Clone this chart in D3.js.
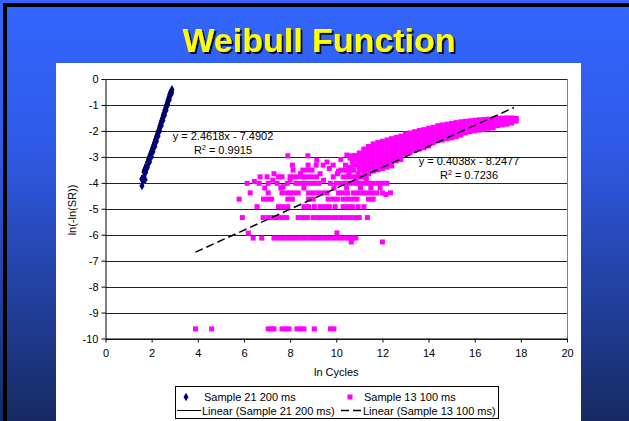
<!DOCTYPE html>
<html><head><meta charset="utf-8">
<script src="https://cdn.jsdelivr.net/npm/d3@7"></script>
<style>html,body{margin:0;padding:0;background:#fff;}svg{display:block;font-family:"Liberation Sans",Arial,sans-serif;}</style>
</head><body>
<svg id="c" width="629" height="421"></svg>
<script>
const titleText = "Weibull Function";
const xTicks = [0,2,4,6,8,10,12,14,16,18,20];
const yTicks = [0,-1,-2,-3,-4,-5,-6,-7,-8,-9,-10];
const xLabel = "ln Cycles";
const yLabel = "ln(-ln(SR))";
const seriesNames = ["Sample 21 200 ms","Sample 13 100 ms","Linear (Sample 21 200 ms)","Linear (Sample 13 100 ms)"];

// Sample 21 200 ms : [x, y]
const sample21 = [
 [1.58,-4.12],[1.57,-3.85],[1.63,-3.95],[1.72,-3.88],[1.67,-3.75],[1.64,-3.82],
 [1.68,-3.6],[1.74,-3.6],[1.70,-3.5],[1.76,-3.5],[1.76,-3.4],[1.82,-3.4],
 [1.85,-3.2],[1.91,-3.2],[1.88,-3.1],[1.93,-3.0],[1.99,-3.0],[1.97,-2.9],
 [2.00,-2.8],[2.06,-2.8],[2.04,-2.7],[2.08,-2.6],[2.14,-2.6],[2.12,-2.5],
 [2.15,-2.4],[2.21,-2.4],[2.19,-2.3],[2.22,-2.2],[2.28,-2.2],[2.26,-2.1],
 [2.29,-2.0],[2.35,-2.0],[2.33,-1.9],[2.36,-1.8],[2.42,-1.8],[2.40,-1.7],
 [2.43,-1.6],[2.49,-1.6],[2.47,-1.5],[2.50,-1.4],[2.56,-1.4],[2.54,-1.3],
 [2.57,-1.2],[2.63,-1.2],[2.61,-1.1],[2.64,-1.0],[2.70,-1.0],[2.68,-0.9],
 [2.71,-0.8],[2.77,-0.8],[2.75,-0.7],[2.78,-0.6],[2.84,-0.6],[2.82,-0.5],
 [2.86,-0.45],[2.88,-0.4],[2.87,-0.52]
];

// Sample 13 100 ms, scattered rows: [y, [x values]]
const sample13Rows = [
 [-9.63,[3.9,4.6,7.05,7.2,7.3,7.65,7.8,7.95,8.3,8.45,8.6,9.05,9.75,9.9]],
 [-6.13,[6.4,6.77,7.3,7.5,7.7,7.9,8.1,8.3,8.5,8.7,8.9,9.1,9.3,9.5,9.7,9.9,10.1,10.3,10.5,10.7,10.85]],
 [-5.34,[5.93,6.83,7.05,7.25,7.45,7.65,7.85,8.35,8.55,8.75,9.0,9.2,9.4,9.6,9.8,10.0,10.2,10.4,10.6,10.8,11.0,11.35]],
 [-4.92,[6.57,7.5,7.7,7.9,8.6,8.8,9.05,9.3,9.5,9.7,9.95,10.3,10.5,10.7,10.95,11.2]],
 [-4.63,[5.79,6.85,7.05,7.2,7.9,8.1,8.8,9.0,9.65,9.85,10.05,10.3,10.5,10.7,10.9,11.4,11.6]],
 [-4.39,[6.27,7.05,7.65,7.85,8.0,8.15,8.35,8.8,9.0,9.2,9.4,9.6,10.1,10.3,10.5,10.75,10.95,11.15,11.35,11.55,11.75,12.0,12.35]],
 [-4.2,[6.9,7.6,8.6,9.9,10.45,11.05,11.5]],
 [-4.02,[6.14,6.66,7.05,7.44,7.88,8.25,8.45,8.65,8.85,9.05,9.25,9.74,10.0,10.2,10.4,10.6,10.8,11.0,11.2,11.4,11.6,11.8,12.0,12.2]],
 [-3.9,[7.25,8.0,9.45,10.85,11.3]],
 [-3.77,[6.7,7.0,7.5,7.65,8.0,8.15,8.35,8.55,8.75,8.95,9.15,9.87,10.3,10.5,10.7,10.9,11.1,11.3]],
 [-3.65,[7.3,8.45,9.3,10.05,10.55,10.95]],
 [-3.51,[8.13,8.55,8.75,8.95,10.2,10.4,10.6,10.75,11.0]],
 [-3.32,[8.1,8.78,9.13,9.43,9.87,10.4,10.75,10.95]],
 [-2.96,[7.9,8.77,10.63]]
];
// Sample 13 100 ms, single points: [x, y]
const sample13Singles = [
 [6.19,-5.94],[10.03,-5.93],[10.65,-6.28],[12.0,-6.28],[9.16,-3.13],[9.6,-3.2],
 [10.2,-3.1],[10.46,-2.93],[10.85,-3.0],[10.7,-3.2],[11.9,-4.2],[12.15,-4.45],
 [6.45,-3.95],[7.7,-4.15],[9.7,-3.45],[10.1,-3.55]
];
// Sample 13 100 ms, dense band columns: [x, [y values]]
const sample13Cols = [
 [10.6,[-3.05,-3.4]],
 [10.8,[-2.95,-3.1,-3.3]],
 [11.0,[-2.85,-3.0,-3.15,-3.3,-3.45]],
 [11.2,[-2.7,-2.85,-3.0,-3.15,-3.3,-3.45,-3.6]],
 [11.4,[-2.6,-2.75,-2.9,-3.05,-3.2,-3.35,-3.5,-3.65]],
 [11.6,[-2.5,-2.65,-2.8,-2.95,-3.1,-3.25,-3.4,-3.55]],
 [11.8,[-2.45,-2.6,-2.75,-2.9,-3.05,-3.2,-3.35,-3.5]],
 [12.0,[-2.4,-2.55,-2.7,-2.85,-3.0,-3.15,-3.3,-3.45]],
 [12.2,[-2.35,-2.5,-2.65,-2.8,-2.95,-3.1,-3.25,-3.4]],
 [12.4,[-2.3,-2.45,-2.6,-2.75,-2.9,-3.05,-3.2,-3.35]],
 [12.6,[-2.25,-2.4,-2.55,-2.7,-2.85,-3.0,-3.15]],
 [12.8,[-2.2,-2.35,-2.5,-2.65,-2.8,-2.95,-3.1]],
 [13.0,[-2.12,-2.27,-2.42,-2.57,-2.72,-2.87]],
 [13.2,[-2.08,-2.23,-2.38,-2.53,-2.68,-2.83]],
 [13.4,[-2.03,-2.18,-2.33,-2.48,-2.63,-2.75]],
 [13.6,[-1.98,-2.13,-2.28,-2.43,-2.58,-2.7]],
 [13.8,[-1.95,-2.1,-2.25,-2.4,-2.55,-2.65]],
 [14.0,[-1.9,-2.05,-2.2,-2.35,-2.5,-2.58]],
 [14.2,[-1.86,-2.01,-2.16,-2.31,-2.46]],
 [14.4,[-1.8,-1.95,-2.1,-2.25,-2.38]],
 [14.6,[-1.77,-1.92,-2.07,-2.22,-2.35]],
 [14.8,[-1.74,-1.89,-2.04,-2.19,-2.3]],
 [15.0,[-1.71,-1.86,-2.01,-2.16,-2.27]],
 [15.2,[-1.68,-1.83,-1.98,-2.13,-2.22]],
 [15.4,[-1.65,-1.8,-1.95,-2.1,-2.16]],
 [15.6,[-1.63,-1.78,-1.93,-2.08]],
 [15.8,[-1.61,-1.76,-1.91,-2.03]],
 [16.0,[-1.59,-1.74,-1.89,-2.0]],
 [16.2,[-1.57,-1.72,-1.87,-1.97]],
 [16.4,[-1.56,-1.71,-1.86,-1.94]],
 [16.6,[-1.55,-1.7,-1.85,-1.9]],
 [16.8,[-1.54,-1.68,-1.82,-1.88]],
 [17.0,[-1.52,-1.66,-1.8]],
 [17.2,[-1.51,-1.64,-1.77]],
 [17.4,[-1.5,-1.62,-1.74]],
 [17.6,[-1.5,-1.6,-1.7]],
 [17.8,[-1.52,-1.62]]
];

// Trend lines: slope, intercept, x range
const trendSlopes = [2.4618, 0.4038];
const trendIntercepts = [-7.4902, -8.2477];
const trendRanges = [[1.58, 2.88],[3.9, 17.7]];
const trendLabels = [["y = 2.4618x - 7.4902","0.9915"],["y = 0.4038x - 8.2477","0.7236"]];

const svg = d3.select("#c");
const defs = svg.append("defs");
const g1 = defs.append("linearGradient").attr("id","bg").attr("x1",0).attr("y1",0).attr("x2",0).attr("y2",1);
g1.append("stop").attr("offset","0%").attr("stop-color","#3366ff");
g1.append("stop").attr("offset","35%").attr("stop-color","#2f5ae6");
g1.append("stop").attr("offset","100%").attr("stop-color","#172a62");
const f = defs.append("filter").attr("id","sh").attr("x","-10%").attr("y","-20%").attr("width","130%").attr("height","150%");
f.append("feDropShadow").attr("dx",2).attr("dy",2).attr("stdDeviation",0.6).attr("flood-color","#000").attr("flood-opacity",0.85);

svg.append("rect").attr("width",629).attr("height",421).attr("fill","url(#bg)");
svg.append("rect").attr("x",3).attr("y",3).attr("width",626).attr("height",4).attr("fill","#000");
svg.append("rect").attr("x",3).attr("y",3).attr("width",4).attr("height",418).attr("fill","#000");

// title with shadow
svg.append("text").attr("x",319).attr("y",52).attr("text-anchor","middle")
  .attr("font-size",34).attr("font-weight","bold").attr("fill","#ffff00").attr("filter","url(#sh)").text(titleText);

// white chart area
svg.append("rect").attr("x",56).attr("y",63).attr("width",525).attr("height",358).attr("fill","#fff");

const x = d3.scaleLinear().domain([0,20]).range([105.5,567]);
const y = d3.scaleLinear().domain([-10,0]).range([338.5,79]);

// gridlines
svg.append("g").selectAll("line").data(yTicks).join("line")
  .attr("x1",x(0)).attr("x2",x(20)).attr("y1",d=>Math.round(y(d))+0.5).attr("y2",d=>Math.round(y(d))+0.5)
  .attr("stroke","#222").attr("stroke-width",1);
svg.append("line").attr("x1",567.5).attr("x2",567.5).attr("y1",y(0)).attr("y2",y(-10)+0.5)
  .attr("stroke","#808080");

// axes
const xa = svg.append("g").attr("transform",`translate(0,${y(-10)})`)
  .call(d3.axisBottom(x).tickValues(xTicks).tickSize(4).tickPadding(7).tickSizeOuter(0).tickFormat(d3.format("d")));
const ya = svg.append("g").attr("transform",`translate(${x(0)},0)`)
  .call(d3.axisLeft(y).tickValues(yTicks).tickSize(4).tickPadding(3).tickSizeOuter(0).tickFormat(d3.format("d")));
[xa,ya].forEach(a=>{
  a.selectAll("text").attr("font-size",11).attr("fill","#000").attr("font-family","Liberation Sans, Arial, sans-serif");
  a.selectAll("line,path").attr("stroke","#000");
});
ya.selectAll("text").text(d=> d===0 ? "0" : "-" + Math.abs(d));

// axis titles
svg.append("text").attr("x",x(10)).attr("y",376).attr("text-anchor","middle").attr("font-size",11).text(xLabel);
svg.append("text").attr("transform","translate(76,210) rotate(-90)").attr("text-anchor","middle").attr("font-size",11).text(yLabel);

// sample 13 points
const s13 = [];
sample13Rows.forEach(([yy,xs])=>xs.forEach(xx=>s13.push([xx,yy])));
sample13Cols.forEach(([xx,ys])=>ys.forEach(yy=>s13.push([xx,yy])));
sample13Singles.forEach(p=>s13.push(p));
svg.append("g").selectAll("rect").data(s13).join("rect")
  .attr("x",d=>x(d[0])-2.5).attr("y",d=>y(d[1])-2.5).attr("width",5).attr("height",5).attr("fill","#ff00ff");

// sample 21 points
const diamond = d3.symbol().type(d3.symbolDiamond).size(22);
svg.append("g").selectAll("path").data(sample21).join("path")
  .attr("d",diamond).attr("transform",d=>`translate(${x(d[0])},${y(d[1])})`).attr("fill","#000080");

// trend lines
const line = d3.line().x(d=>x(d[0])).y(d=>y(d[1]));
trendSlopes.forEach((m,i)=>{
  const pts = trendRanges[i].map(xx=>[xx, m*xx + trendIntercepts[i]]);
  svg.append("path").attr("d",line(pts)).attr("fill","none").attr("stroke","#000")
    .attr("stroke-width", i===0?1:1.5).attr("stroke-dasharray", i===0?null:"8,4");
});

// trend labels
const labelPos = [[223,140],[469,165]];
trendLabels.forEach((t,i)=>{
  const [lx,ly] = labelPos[i];
  svg.append("text").attr("x",lx).attr("y",ly).attr("text-anchor","middle").attr("font-size",11).text(t[0]);
  const r = svg.append("text").attr("x",lx).attr("y",ly+14).attr("text-anchor","middle").attr("font-size",11);
  r.append("tspan").text("R");
  r.append("tspan").attr("dy",-4).attr("font-size",7).text("2");
  r.append("tspan").attr("dy",4).text(" = " + t[1]);
});

// legend
const lg = svg.append("g");
lg.append("rect").attr("x",175.5).attr("y",386.5).attr("width",323).attr("height",32).attr("fill","#fff").attr("stroke","#000");
lg.append("path").attr("d",diamond).attr("transform","translate(186,397)").attr("fill","#000080");
lg.append("text").attr("x",204).attr("y",401).attr("font-size",11).text(seriesNames[0]);
lg.append("rect").attr("x",347.5).attr("y",394.5).attr("width",5).attr("height",5).attr("fill","#ff00ff");
lg.append("text").attr("x",364).attr("y",401).attr("font-size",11).text(seriesNames[1]);
lg.append("line").attr("x1",177).attr("x2",201).attr("y1",410.5).attr("y2",410.5).attr("stroke","#000").attr("stroke-width",1);
lg.append("text").attr("x",202).attr("y",414.5).attr("font-size",11).text(seriesNames[2]);
lg.append("line").attr("x1",341).attr("x2",362).attr("y1",410.5).attr("y2",410.5).attr("stroke","#000").attr("stroke-width",1.5).attr("stroke-dasharray","8,4");
lg.append("text").attr("x",363).attr("y",414.5).attr("font-size",11).text(seriesNames[3]);
</script>
</body></html>
